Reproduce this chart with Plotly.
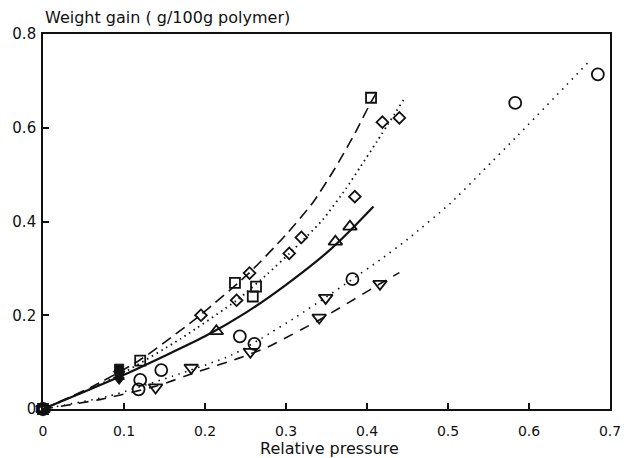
import plotly.graph_objects as go

# Sorption data: relative pressure vs weight gain (g/100g polymer)
square_x = [0.0, 0.120, 0.237, 0.259, 0.263, 0.405]
square_y = [0.0, 0.103, 0.269, 0.240, 0.261, 0.664]

diamond_x = [0.0, 0.195, 0.239, 0.255, 0.304, 0.319, 0.385, 0.419, 0.440]
diamond_y = [0.0, 0.200, 0.232, 0.290, 0.332, 0.366, 0.453, 0.612, 0.621]

tri_up_x = [0.0, 0.214, 0.361, 0.379]
tri_up_y = [0.0, 0.166, 0.357, 0.389]

circle_x = [0.0, 0.118, 0.120, 0.146, 0.243, 0.261, 0.382, 0.583, 0.685]
circle_y = [0.0, 0.042, 0.062, 0.083, 0.155, 0.139, 0.277, 0.653, 0.714]

tri_down_x = [0.0, 0.139, 0.183, 0.256, 0.341, 0.349, 0.416]
tri_down_y = [0.0, 0.046, 0.088, 0.122, 0.195, 0.237, 0.267]

# Overlapping solid symbols near p/p0 = 0.094
filled_x = [0.094, 0.094, 0.094, 0.094, 0.094]
filled_y = [0.086, 0.080, 0.074, 0.068, 0.062]
filled_sym = ["square", "diamond", "circle", "triangle-up", "triangle-down"]

# Fitted isotherm curves
square_fit_x = [0.0, 0.06, 0.12, 0.194, 0.255, 0.300, 0.333, 0.360, 0.385, 0.405, 0.415]
square_fit_y = [0.0, 0.047, 0.105, 0.200, 0.291, 0.372, 0.440, 0.512, 0.588, 0.655, 0.684]

diamond_fit_x = [0.0, 0.05, 0.10, 0.17, 0.240, 0.277, 0.305, 0.345, 0.374, 0.392, 0.412, 0.445]
diamond_fit_y = [0.0, 0.036, 0.078, 0.150, 0.233, 0.288, 0.333, 0.403, 0.470, 0.517, 0.570, 0.659]

solid_fit_x = [0.0, 0.10, 0.20, 0.25, 0.30, 0.35, 0.38, 0.408]
solid_fit_y = [0.0, 0.073, 0.155, 0.205, 0.265, 0.333, 0.382, 0.432]

circle_fit_x = [0.0, 0.08, 0.16, 0.233, 0.269, 0.313, 0.349, 0.382, 0.416, 0.45, 0.503, 0.543, 0.587, 0.674]
circle_fit_y = [0.0, 0.027, 0.070, 0.115, 0.150, 0.197, 0.238, 0.277, 0.318, 0.362, 0.439, 0.508, 0.585, 0.741]

tri_down_fit_x = [0.0, 0.07, 0.14, 0.192, 0.241, 0.277, 0.341, 0.414, 0.440]
tri_down_fit_y = [0.0, 0.020, 0.049, 0.080, 0.108, 0.132, 0.190, 0.265, 0.291]

x_ticks = [0, 0.1, 0.2, 0.3, 0.4, 0.5, 0.6, 0.7]
x_tick_text = ["0", "0.1", "0.2", "0.3", "0.4", "0.5", "0.6", "0.7"]
y_ticks = [0, 0.2, 0.4, 0.6, 0.8]
y_tick_text = ["0", "0.2", "0.4", "0.6", "0.8"]

INK = "#111111"
FONT = "DejaVu Sans"

fig = go.Figure()


def add_curve(xs, ys, dash, width):
    fig.add_trace(go.Scatter(
        x=xs, y=ys, mode="lines",
        line=dict(color=INK, width=width, dash=dash, shape="spline", smoothing=0.6),
        hoverinfo="skip", showlegend=False, cliponaxis=False,
    ))


def add_points(xs, ys, symbol, size):
    fig.add_trace(go.Scatter(
        x=xs, y=ys, mode="markers",
        marker=dict(symbol=symbol, size=size, color=INK,
                    line=dict(color=INK, width=1.8)),
        showlegend=False, cliponaxis=False,
    ))


add_curve(square_fit_x, square_fit_y, "11px,6px", 1.6)
add_curve(diamond_fit_x, diamond_fit_y, "1.5px,4px", 1.8)
add_curve(solid_fit_x, solid_fit_y, "solid", 2.2)
add_curve(circle_fit_x, circle_fit_y, "1.5px,5.5px", 1.6)
add_curve(tri_down_fit_x, tri_down_fit_y, "10px,8px", 1.6)

add_points(square_x, square_y, "square-open", 10)
add_points(diamond_x, diamond_y, "diamond-open", 9)
add_points(tri_up_x, tri_up_y, "triangle-up-open", 12)
add_points(circle_x, circle_y, "circle-open", 12)
add_points(tri_down_x, tri_down_y, "triangle-down-open", 12)

fig.add_trace(go.Scatter(
    x=filled_x, y=filled_y, mode="markers",
    marker=dict(symbol=filled_sym, size=9, color=INK, line=dict(color=INK, width=1)),
    showlegend=False, cliponaxis=False,
))

axis_common = dict(
    showgrid=False, zeroline=False, showline=True, linecolor=INK, linewidth=1.6,
    mirror=True, ticks="inside", tickcolor=INK, tickwidth=1.5, ticklen=6,
)

fig.update_layout(
    width=633, height=458,
    margin=dict(l=41, r=12, t=34, b=49),
    paper_bgcolor="white", plot_bgcolor="white",
    xaxis=dict(range=[0, 0.7], tickvals=x_ticks, ticktext=x_tick_text,
               ticklabelstandoff=8, tickfont=dict(family=FONT, size=14, color=INK),
               **axis_common),
    yaxis=dict(range=[0, 0.8], tickvals=y_ticks, ticktext=y_tick_text,
               ticklabelstandoff=2, tickfont=dict(family=FONT, size=15, color=INK),
               **axis_common),
    annotations=[
        dict(text="Weight gain ( g/100g polymer)", x=0, y=1, xref="paper", yref="paper",
             xanchor="left", yanchor="bottom", yshift=5, showarrow=False,
             font=dict(family=FONT, size=16, color=INK)),
        dict(text="Relative pressure", x=0.505, y=0, xref="paper", yref="paper",
             xanchor="center", yanchor="top", yshift=-28, showarrow=False,
             font=dict(family=FONT, size=16, color=INK)),
    ],
)

fig.write_html("out.html")
